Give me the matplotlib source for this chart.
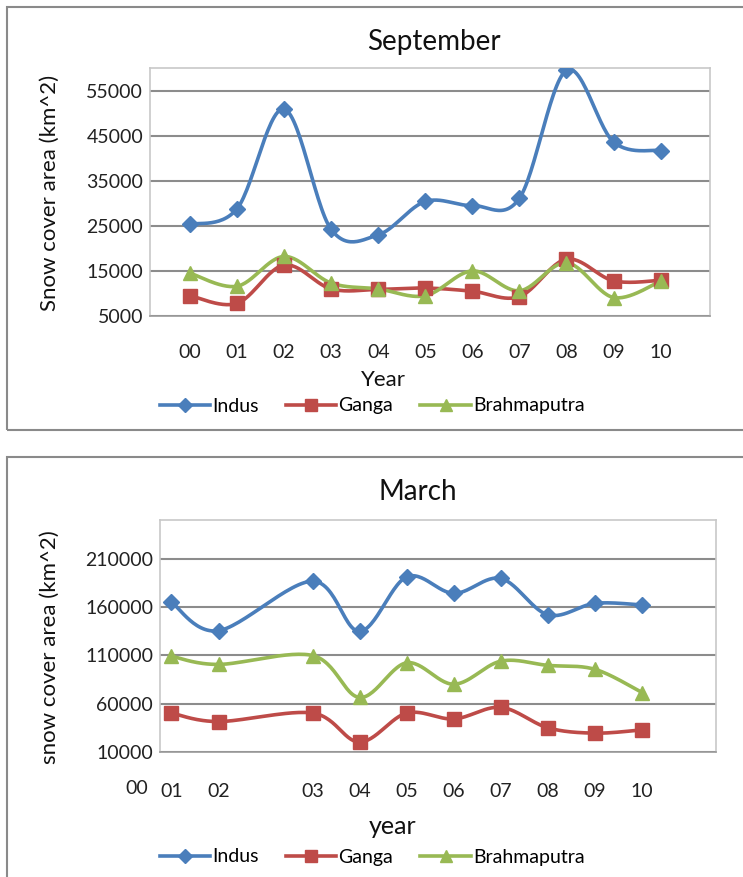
import numpy as np
import matplotlib
matplotlib.use("Agg")
import matplotlib.pyplot as plt
from matplotlib.patches import Rectangle
from matplotlib.lines import Line2D

plt.rcParams['font.family'] = ['Lato', 'DejaVu Sans']

# September data (years 00-10)
sep_years = ['00', '01', '02', '03', '04', '05', '06', '07', '08', '09', '10']
sep_indus = [25300, 28800, 50900, 24200, 23000, 30400, 29500, 31100, 59500, 43600, 41700]
sep_ganga = [9500, 7800, 16300, 11000, 10900, 11200, 10500, 9300, 17600, 12800, 12900]
sep_brahma = [14500, 11600, 18200, 12300, 11000, 9500, 15000, 10600, 16800, 9100, 12700]

# March data (years 01-10, uneven x spacing on the axis)
mar_years = ['01', '02', '03', '04', '05', '06', '07', '08', '09', '10']
mar_xpos = [1, 2, 4, 5, 6, 7, 8, 9, 10, 11]
mar_indus = [164900, 135500, 186700, 134800, 191200, 174100, 189500, 151900, 163800, 162100]
mar_ganga = [50300, 41500, 50300, 20300, 50300, 44200, 56200, 35000, 29500, 32900]
mar_brahma = [109100, 100600, 109800, 66400, 102300, 80100, 104000, 99600, 95500, 71500]

names = ['Indus', 'Ganga', 'Brahmaputra']
colors = ['#4A7EBB', '#BE4B48', '#98B954']
markers = ['D', 's', '^']
msizes = [8, 10, 10]


def smooth(x, y, n=30):
    # excel style smoothed line (catmull-rom bezier)
    x = np.asarray(x, float)
    y = np.asarray(y, float)
    px = np.concatenate([[x[0]], x, [x[-1]]])
    py = np.concatenate([[y[0]], y, [y[-1]]])
    t = np.linspace(0, 1, n)
    xs, ys = [], []
    for i in range(1, len(x)):
        p0 = np.array([px[i - 1], py[i - 1]])
        p1 = np.array([px[i], py[i]])
        p2 = np.array([px[i + 1], py[i + 1]])
        p3 = np.array([px[i + 2], py[i + 2]])
        c1 = p1 + (p2 - p0) / 6
        c2 = p2 - (p3 - p1) / 6
        for tt in t:
            b = ((1 - tt) ** 3) * p1 + 3 * ((1 - tt) ** 2) * tt * c1 + 3 * (1 - tt) * tt ** 2 * c2 + tt ** 3 * p2
            xs.append(b[0])
            ys.append(b[1])
    return xs, ys


def style_axes(ax):
    ax.set_facecolor('white')
    for s in ax.spines.values():
        s.set_color('#c8c8c8')
        s.set_linewidth(1.2)
    ax.spines['bottom'].set_color('#9a9a9a')
    ax.yaxis.grid(True, color='#8c8c8c', linewidth=1.5)
    ax.set_axisbelow(True)
    ax.tick_params(axis='both', length=0, labelsize=14, colors='#222222')


def draw_series(ax, x, series):
    for vals, c, m, ms in zip(series, colors, markers, msizes):
        sx, sy = smooth(x, vals)
        ax.plot(sx, sy, color=c, lw=2.6, zorder=3, solid_capstyle='round')
        ax.plot(x, vals, linestyle='none', marker=m, ms=ms, color=c, mec=c, zorder=4)


W, H = 743, 877
fig = plt.figure(figsize=(W / 100, H / 100), dpi=100)


def fx(px):
    return px / W


def fy(py):
    return 1 - py / H


# panel frames
fig.add_artist(Rectangle((fx(7), fy(430)), 1.0, (430 - 7) / H, transform=fig.transFigure,
                         fill=False, ec='#8a8a8a', lw=1.5))
fig.add_artist(Rectangle((fx(7), fy(900)), 1.0, (900 - 457) / H, transform=fig.transFigure,
                         fill=False, ec='#8a8a8a', lw=1.5))

# September
ax1 = fig.add_axes([fx(150), fy(316), (710 - 150) / W, (316 - 68) / H])
style_axes(ax1)
x1 = np.arange(len(sep_years))
draw_series(ax1, x1, [sep_indus, sep_ganga, sep_brahma])
ax1.set_ylim(5000, 60000)
ax1.set_yticks(np.arange(5000, 60000, 10000))
ax1.set_xlim(-0.85, 11.05)
ax1.set_xticks(x1)
ax1.set_xticklabels(sep_years)
ax1.tick_params(axis='x', pad=20)
ax1.tick_params(axis='y', pad=5)
fig.text(fx(434), fy(42), 'September', ha='center', va='center', fontsize=20, color='#111111')
fig.text(fx(383), fy(380), 'Year', ha='center', va='center', fontsize=16, color='#111111')
fig.text(fx(50), fy(193), 'Snow cover area (km^2)', ha='center', va='center', rotation=90,
         fontsize=16, color='#111111')

# March
ax2 = fig.add_axes([fx(160), fy(752), (716 - 160) / W, (752 - 520) / H])
style_axes(ax2)
draw_series(ax2, mar_xpos, [mar_indus, mar_ganga, mar_brahma])
ax2.set_ylim(10000, 250000)
ax2.set_yticks(np.arange(10000, 250000, 50000))
ax2.set_xlim(0.756, 12.57)
ax2.set_xticks(mar_xpos)
ax2.set_xticklabels(mar_years)
ax2.tick_params(axis='x', pad=22)
ax2.tick_params(axis='y', pad=5)
fig.text(fx(137), fy(789), '00', ha='center', va='center', fontsize=14, color='#222222')
fig.text(fx(418), fy(492), 'March', ha='center', va='center', fontsize=20, color='#111111')
fig.text(fx(393), fy(827), 'year', ha='center', va='center', fontsize=18, color='#111111')
fig.text(fx(50), fy(647), 'snow cover area (km^2)', ha='center', va='center', rotation=90,
         fontsize=16, color='#111111')

# legends
handles = [Line2D([], [], color=c, lw=2.6, marker=m, ms=ms, mec=c)
           for c, m, ms in zip(colors, markers, msizes)]
for yc, xc in [(406, 372), (857, 372)]:
    fig.legend(handles, names, loc='center', bbox_to_anchor=(fx(xc), fy(yc)), ncol=3,
               frameon=False, fontsize=14, handlelength=2.6, handletextpad=0.1,
               columnspacing=1.4, markerscale=0.85)

fig.savefig('out.png', dpi=100)
